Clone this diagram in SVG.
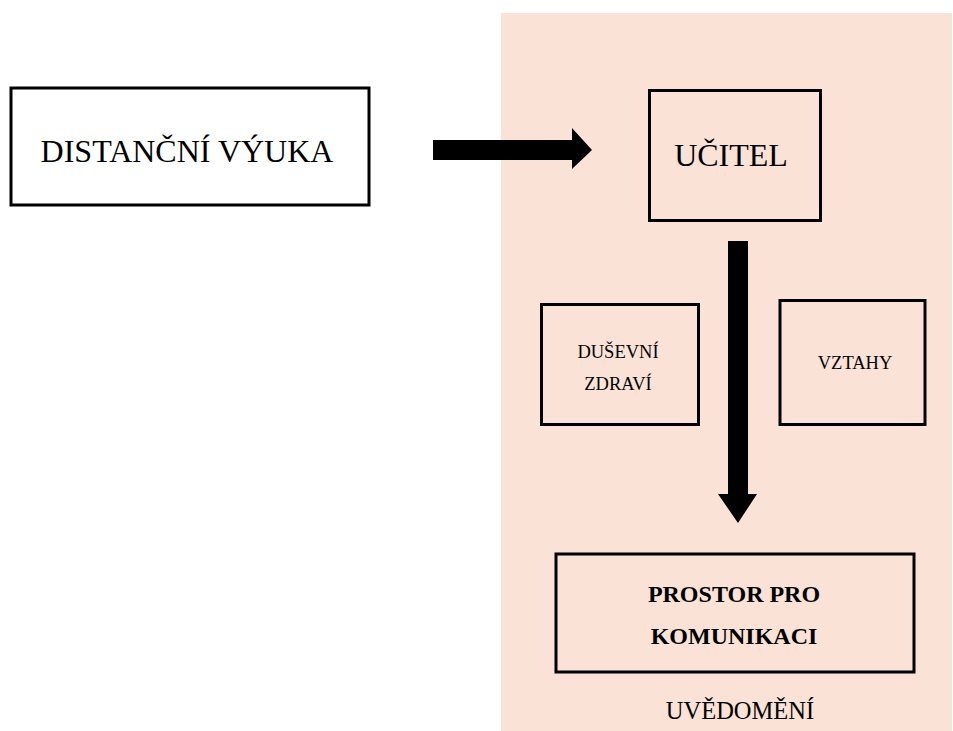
<svg xmlns="http://www.w3.org/2000/svg" width="953" height="731" viewBox="0 0 953 731">
<style>
.box{fill:none;stroke:#000;stroke-width:3}
.t{font-family:"Liberation Serif","Times New Roman",serif;fill:#000;text-anchor:middle}
.arrow{fill:#000}
</style>
<rect width="953" height="731" fill="#fff"/>
<rect id="panel" x="501" y="13" width="451" height="718" fill="#FAE3D6"/>
<g id="distancni-vyuka">
<rect class="box" x="11" y="88" width="358" height="117"/>
<text class="t" x="187" y="162" font-size="32">DISTANČNÍ VÝUKA</text>
</g>
<g id="ucitel">
<rect class="box" x="649.5" y="90.5" width="171" height="130"/>
<text class="t" x="731" y="166" font-size="32">UČITEL</text>
</g>
<g id="dusevni-zdravi">
<rect class="box" x="541.5" y="304.5" width="157" height="120"/>
<text class="t" x="618" y="358" font-size="18.5">DUŠEVNÍ</text>
<text class="t" x="618" y="390" font-size="18.5">ZDRAVÍ</text>
</g>
<g id="vztahy">
<rect class="box" x="780" y="300.5" width="145" height="124"/>
<text class="t" x="855" y="369" font-size="18.5">VZTAHY</text>
</g>
<g id="prostor">
<rect class="box" x="556" y="554" width="358" height="118" stroke-width="4"/>
<text class="t" x="734" y="602" font-size="24" font-weight="bold">PROSTOR PRO</text>
<text class="t" x="734" y="644" font-size="24" font-weight="bold">KOMUNIKACI</text>
</g>
<g id="uvedomeni">
<text class="t" x="740" y="719" font-size="24.5">UVĚDOMĚNÍ</text>
</g>
<g id="connectors">
<polygon class="arrow" points="433,140 572,140 572,128 592,150 572,169 572,160 433,160"/>
<polygon class="arrow" points="728,241 748,241 748,494 757,494 738,523 718,494 728,494"/>
</g>
</svg>
